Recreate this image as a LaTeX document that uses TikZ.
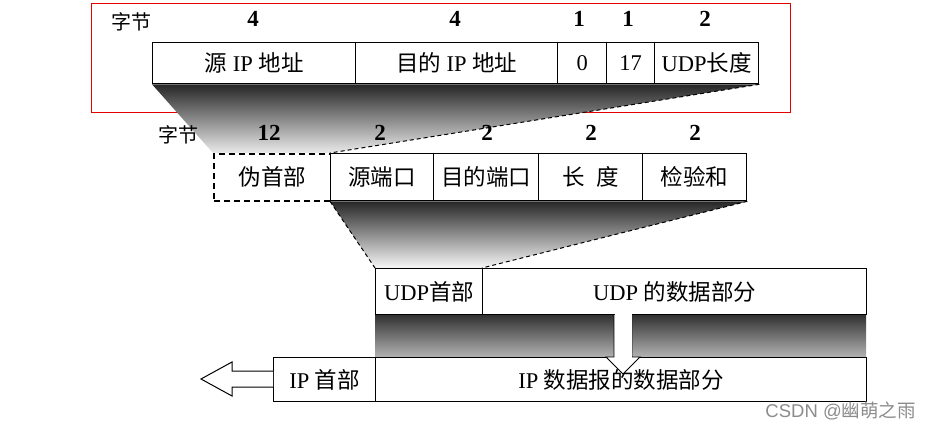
\documentclass[tikz,border=0pt]{standalone}
\usepackage{fontspec}
\setmainfont{Liberation Serif}
\newfontfamily\cjk{Noto Sans CJK SC}
\newfontfamily\wmfont{Liberation Sans}
\begin{document}
\begin{tikzpicture}[x=1pt,y=-1pt,
  cell/.style={draw,line width=1.3pt,fill=white,anchor=north west,inner sep=0pt,
    font=\fontsize{22.5}{24}\selectfont},
  lbl/.style={font=\fontsize{23}{24}\selectfont\bfseries,inner sep=0pt},
  zi/.style={font=\fontsize{20}{21}\selectfont\cjk,inner sep=0pt},
  dashln/.style={dashed,line width=1pt,dash pattern=on 4pt off 3pt},
]
\useasboundingbox (0,0) rectangle (929,430);
% red frame
\draw[red!90!black,line width=0.8pt] (91,3) rectangle (790,112);

% top row
\node[cell,minimum width=203pt,minimum height=41pt] (t1) at (152,42) {{\cjk 源} IP {\cjk 地址}};
\node[cell,minimum width=202pt,minimum height=41pt] (t2) at (355,42) {{\cjk 目的} IP {\cjk 地址}};
\node[cell,minimum width=49pt,minimum height=41pt] (t3) at (557,42) {0};
\node[cell,minimum width=48pt,minimum height=41pt] (t4) at (606,42) {17};
\node[cell,minimum width=104pt,minimum height=41pt] (t5) at (654,42) {UDP{\cjk 长度}};

\coordinate (psnw) at (213,153);
\coordinate (psne) at (330,153);

% top shading
\shade[top color=black!85,bottom color=black!8]
  (t1.south west) -- (t5.south east) -- (psne) -- (psnw) -- cycle;
\draw[dashln] (t5.south east) -- (psne);

% middle row
\node[cell,line width=1.8pt,dash pattern=on 6pt off 4pt,minimum width=117pt,minimum height=47pt] (m0) at (213,153) {\cjk 伪首部};
\node[cell,minimum width=103pt,minimum height=47pt] (m1) at (330,153) {\cjk 源端口};
\node[cell,minimum width=105pt,minimum height=47pt] (m2) at (433,153) {\cjk 目的端口};
\node[cell,minimum width=104pt,minimum height=47pt] (m3) at (538,153) {\cjk 长\hspace{0.5em}度};
\node[cell,minimum width=104pt,minimum height=47pt] (m4) at (642,153) {\cjk 检验和};

% middle shading
\coordinate (unw) at (375,268);
\coordinate (une) at (482,268);
\shade[top color=black!85,bottom color=black!3]
  (m1.south west) -- (m4.south east) -- (une) -- (unw) -- cycle;
\draw[dashln] (m1.south west) -- (unw);
\draw[dashln] (m4.south east) -- (une);

% UDP row
\node[cell,minimum width=107pt,minimum height=46pt] (u1) at (375,268) {UDP{\cjk 首部}};
\node[cell,minimum width=384pt,minimum height=46pt] (u2) at (482,268) {UDP {\cjk 的数据部分}};

% bottom shading
\shade[top color=black!80,bottom color=black!30]
  (u1.south west) rectangle (866,357);

% IP row
\node[cell,minimum width=102pt,minimum height=44pt] (i1) at (273,357) {IP {\cjk 首部}};
\node[cell,minimum width=491pt,minimum height=44pt] (i2) at (375,357) {IP {\cjk 数据报的数据部分}};

% down arrow
\draw[fill=white,line width=0.9pt] (614,315) -- (614,357) -- (606,357) -- (623,374) -- (640,357) -- (632,357) -- (632,315);
\fill[white] (614.5,313) rectangle (631.5,358);

% left hollow arrow
\coordinate (lt) at (201,379);
\draw[fill=white,line width=1pt] (i1.west |- 0,371) -- (232,371) -- (232,362) -- (lt) -- (232,396) -- (232,387) -- (i1.west |- 0,387);

% labels
\node[zi] (zj1) at (131,22) {字节};
\node[lbl] (n1) at (253,19) {4};
\node[lbl] (n2) at (455,19) {4};
\node[lbl] (n3) at (579,19) {1};
\node[lbl] (n4) at (628,19) {1};
\node[lbl] (n5) at (705,19) {2};

\node[zi] (zj2) at (178,135) {字节};
\node[lbl] (k1) at (269,133) {12};
\node[lbl] (k2) at (380,133) {2};
\node[lbl] (k3) at (487,133) {2};
\node[lbl] (k4) at (591,133) {2};
\node[lbl] (k5) at (695,133) {2};

% watermark
\node[font=\fontsize{18.5}{19}\selectfont,text=black!45,inner sep=0pt,anchor=east] (wm) at (916,411) {\wmfont CSDN @{\cjk 幽萌之雨}};
\end{tikzpicture}
\end{document}
